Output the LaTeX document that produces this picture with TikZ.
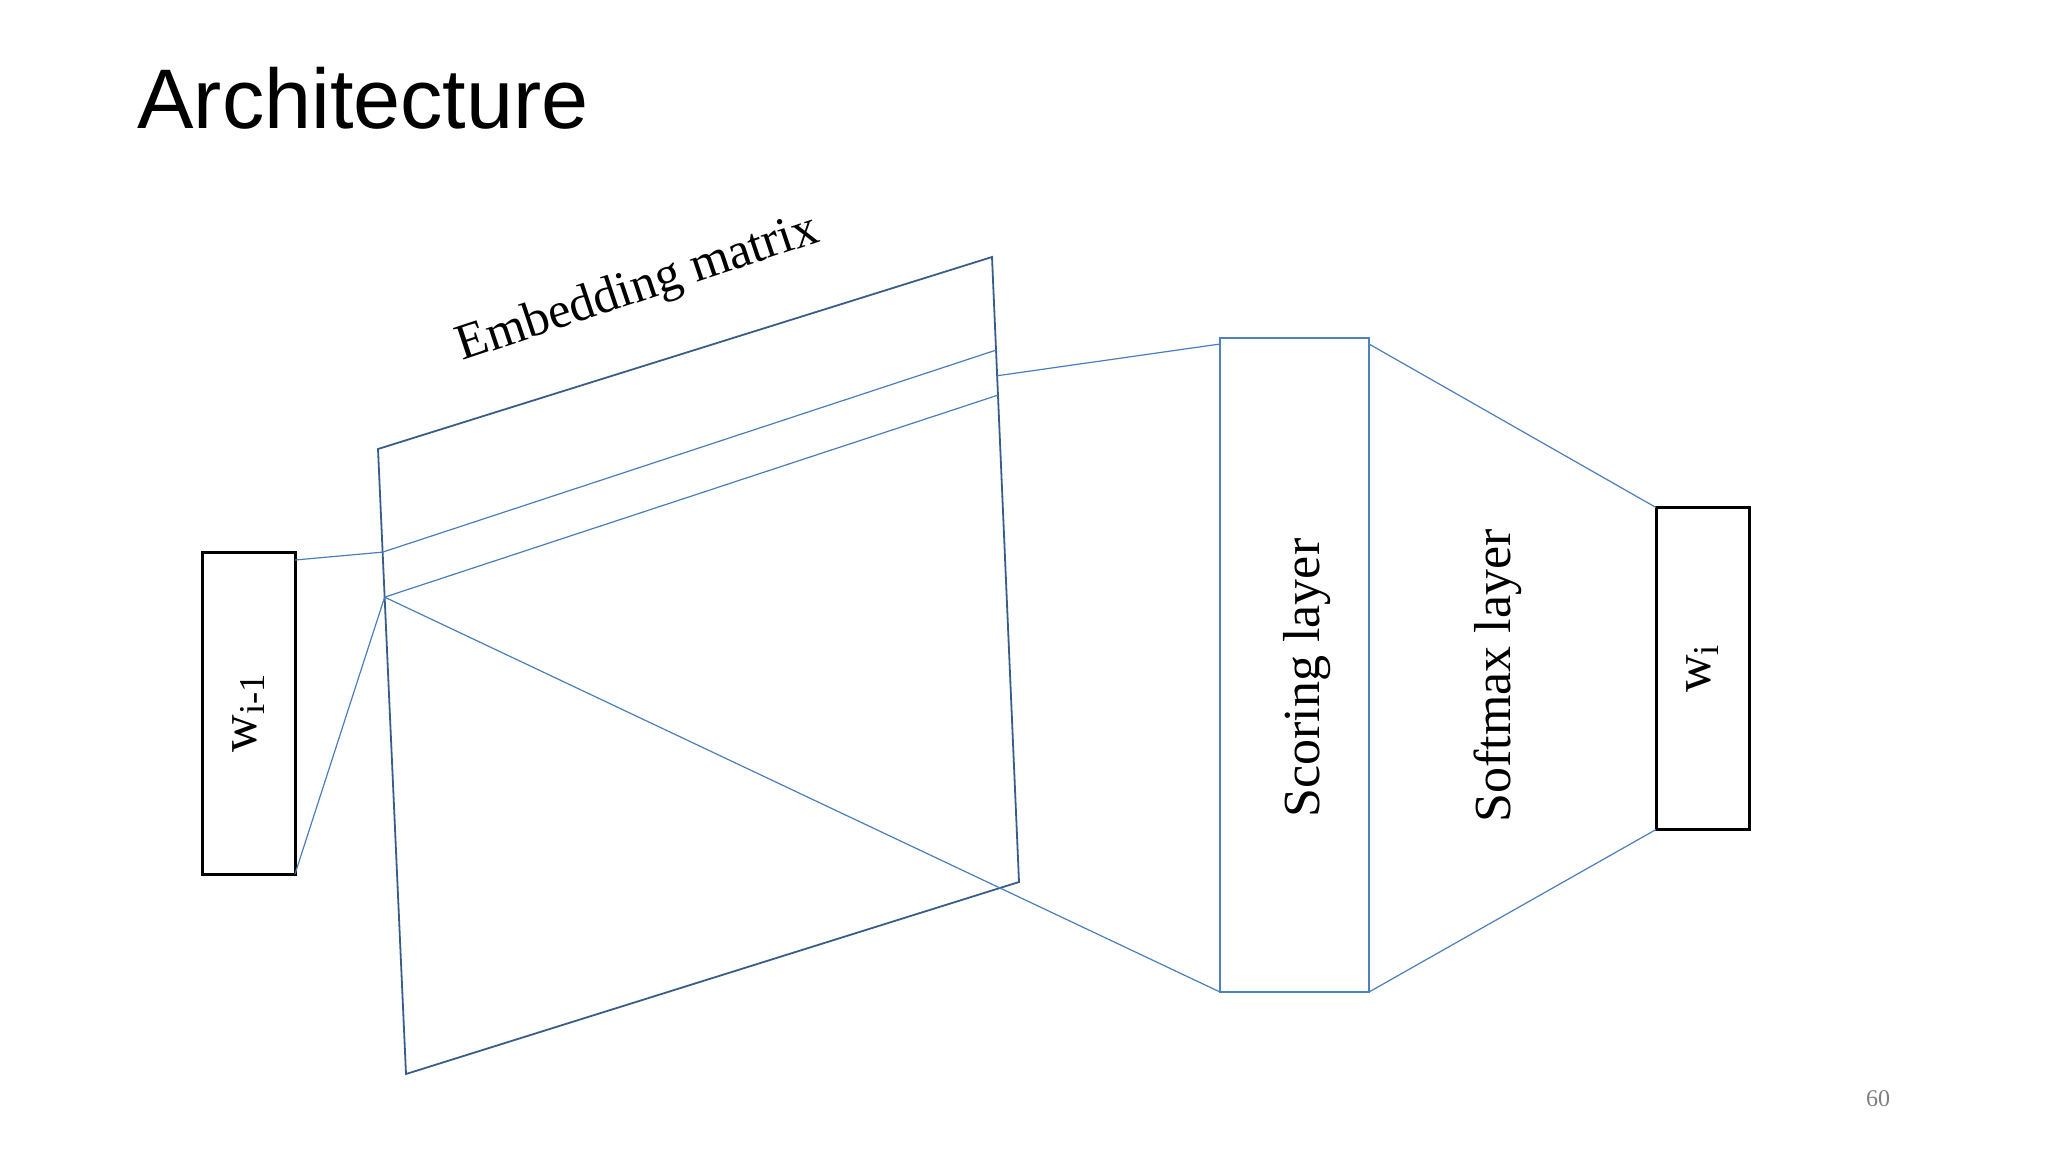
\documentclass[tikz,border=0pt]{standalone}
\usepackage{fontspec}
\setmainfont{Liberation Serif}
\newfontfamily\titlefont{Liberation Sans}
\usetikzlibrary{calc,positioning}

\definecolor{edgeblue}{RGB}{56,93,138}
\definecolor{linkblue}{RGB}{74,126,187}
\definecolor{boxblue}{RGB}{79,129,189}

\tikzset{
	wordbox/.style={draw=black, line width=1.5pt, minimum width=46.5pt, minimum height=161pt,
		inner sep=0pt, outer sep=0pt, font=\fontsize{26}{30}\selectfont},
	layerbox/.style={draw=boxblue, line width=0.7pt, minimum width=74.5pt, minimum height=327pt,
		inner sep=0pt, outer sep=0pt},
	label/.style={font=\fontsize{26}{30}\selectfont, inner sep=0pt},
	link/.style={draw=linkblue, line width=0.6pt},
	frame/.style={draw=edgeblue, line width=0.9pt}
}

\begin{document}
\begin{tikzpicture}[x=0.5pt,y=-0.5pt]
	\useasboundingbox (0,0) rectangle (2048,1152);
	% title
	\node[anchor=base west, inner sep=0pt, font=\titlefont\fontsize{42.3}{48}\selectfont] (title) at (137,128) {Architecture};
	% embedding matrix corners
	\path (378,449) coordinate (E1) (992,257) coordinate (E2) (1019,882) coordinate (E3) (406,1074) coordinate (E4);
	\draw[frame] (E1) -- (E2) -- (E3) -- (E4) -- cycle;
	\node[label, font=\fontsize{25.3}{30}\selectfont, anchor=base, rotate=18.5] (emb) at (642,301) {Embedding matrix};
	\path ($(E1)!0.165!(E4)$) coordinate (L1) ($(E1)!0.237!(E4)$) coordinate (L2);
	\path ($(E2)!0.149!(E3)$) coordinate (R1) ($(E2)!0.221!(E3)$) coordinate (R2) ($(E2)!0.19!(E3)$) coordinate (R3);
	% boxes
	\node[wordbox] (win) at (248.5,713) {\rotatebox{90}{w\textsubscript{i-1}}};
	\node[layerbox] (score) at (1294.5,665) {};
	\node[label, rotate=90] (scoretext) at (1307.5,678) {Scoring layer};
	\node[label, rotate=90] (soft) at (1498,676) {Softmax layer};
	\node[wordbox] (wout) at (1702.5,668.5) {\rotatebox{90}{w\textsubscript{i}}};
	% connectors
	\draw[link] ([yshift=-4pt]win.north east) -- (L1) -- (R1);
	\draw[link] (win.south east) -- (L2) -- (R2);
	\draw[link] (L2) -- (score.south west);
	\draw[link] (R3) -- ([yshift=-3pt]score.north west);
	\draw[link] ([yshift=-3pt]score.north east) -- (wout.north west);
	\draw[link] (score.south east) -- (wout.south west);
	% page number
	\node[font=\fontsize{12}{14}\selectfont, text=gray, inner sep=0pt] (page) at (1878,1099) {60};
\end{tikzpicture}
\end{document}
